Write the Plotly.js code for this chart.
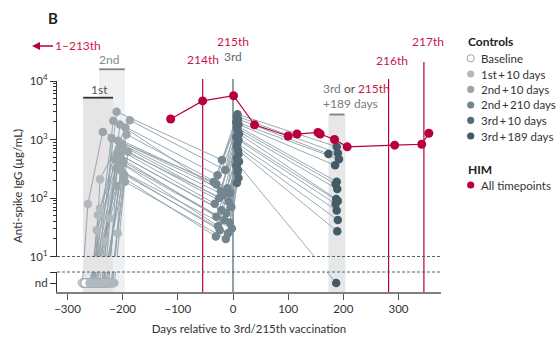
<!DOCTYPE html>
<html><head><meta charset="utf-8">
<script src="https://cdn.plot.ly/plotly-3.0.1.min.js"></script>
<style>html,body{margin:0;padding:0;background:#fff}</style>
</head><body><div id="chart" style="width:559px;height:340px"></div>
<script>
// ---------- DATA ----------
const ND = 'nd';
// Controls: one entry per participant (null = no sample)
const baselineDays = [-258,-251,-262,-245,-273,-240,-233,-251,-266,-257,-235,-255,-219,-248,-260,-242,-270,-243,-228,-256,-264,-231,-246,-225,-268,-238];
const baselineIgG  = [ND,ND,ND,ND,ND,ND,ND,ND,ND,ND,ND,ND,ND,ND,ND,ND,ND,ND,ND,ND,ND,ND,ND,ND,ND,ND];
const first10Days  = [-248,-241,-252,-235,-263,-230,-223,-241,-256,-247,-225,-245,-209,-238,-250,-232,-260,-233,-218,-246,-254,-221,-236,-215,-258,-228];
const first10IgG   = [ND,210,ND,ND,79,ND,45,67,ND,28,ND,51,25,ND,ND,18,ND,ND,ND,ND,ND,ND,ND,ND,ND,ND];
const second10Days = [-211,-187,-217,-220,-236,-193,-205,-208,-203,-200,-207,-205,-190,-210,-204,-206,-214,-199,-200,-212,-201,-197,-198,-196,-211,-195];
const second10IgG  = [2985,2140,2100,1050,1350,1220,1800,950,850,780,700,660,620,580,540,500,460,420,380,320,280,250,220,190,160,1600];
const second210Days= [-20,-14,-28,-35,-30,-10,-22,-5,-18,-25,-8,-33,-3,-21,-12,-30,-16,-6,-27,-2,-24,-9,-31,-13,null,null];
const second210IgG = [447,300,245,187,171,147,130,120,113,100,87,80,70,62,55,48,42,38,33,30,28,25,22,20,null,null];
const third10Days  = [8,7,9,6,10,8,7,9,11,6,10,8,7,9,8,10,7,11,6,9,8,10,7,null,null,null];
const third10IgG   = [2700,2500,2240,2000,1820,1700,1580,1400,1250,1100,980,850,760,660,390,560,480,420,363,300,275,220,180,null,null,null];
const third189Days = [188,190,173,192,185,188,186,189,187,190,186,188,190,189,187,null,null,null,null,null,null,null,null,null,null,null];
const third189IgG  = [753,581,565,459,362,190,173,142,96,89,79,61,42,27,ND,null,null,null,null,null,null,null,null,null,null,null];
// HIM (hyperimmunised man)
const himDays = [-113,-55,1,39,100,116,154,158,184,207,293,342,355];
const himIgG  = [2240,4570,5600,1780,1150,1240,1320,1240,1000,750,800,830,1280];
// Vaccination markers
const doseDays   = [-55,0,282,346];
const doseLabels = ['214th','3rd','216th','217th'];
// Axes
const xTicks = [-300,-200,-100,0,100,200,300];
const yTicks = [10,100,1000,10000];
const yTickText = ['10<sup>1</sup>','10<sup>2</sup>','10<sup>3</sup>','10<sup>4</sup>'];
// Legend
const controlLabels = ['Baseline','1st\u2009+\u200910 days','2nd\u2009+\u200910 days','2nd\u2009+\u2009210 days','3rd\u2009+\u200910 days','3rd\u2009+\u2009189 days'];
const controlColors = ['#ffffff','#b0b9be','#9aa6ac','#73858f','#566d78','#435b66'];
const RED = '#b8003f', RED_TXT = '#c8174a', SLATE = '#4a6470', LINE = '#8fa0a9';

// ---------- GEOMETRY ----------
const PL = 57, PR = 441, PT = 81, PB = 292, PH = PB - PT, PW = PR - PL;
const py = p => (PB - p) / PH;          // pixel y -> paper y
const pxp = p => (p - PL) / PW;         // pixel x -> paper x
const DEC = 58.5, Y10 = 256.5;          // px per decade, pixel of 10^1
const logAt = p => 1 + (Y10 - p) / DEC;
const NDV = Math.pow(10, logAt(283));
const FONT = 'Lato, "Open Sans", sans-serif';

const val = v => v === ND ? NDV : v;

// ---------- TRACES ----------
const series = [
  [baselineDays, baselineIgG],[first10Days, first10IgG],[second10Days, second10IgG],
  [second210Days, second210IgG],[third10Days, third10IgG],[third189Days, third189IgG]
];
const lx = [], ly = [];
for (let i = 0; i < baselineDays.length; i++) {
  series.forEach(([d, v]) => { if (d[i] !== null && v[i] !== null) { lx.push(d[i]); ly.push(val(v[i])); } });
  lx.push(null); ly.push(null);
}
const traces = [];
['y','y2'].forEach(ya => {
  traces.push({x: lx, y: ly, yaxis: ya, mode: 'lines', line: {color: LINE, width: 0.9}, hoverinfo: 'skip', showlegend: false});
  series.forEach(([d, v], k) => {
    const xs = [], ys = [];
    d.forEach((dd, i) => { if (dd !== null && v[i] !== null) { xs.push(dd); ys.push(val(v[i])); } });
    traces.push({x: xs, y: ys, yaxis: ya, mode: 'markers', showlegend: false,
      marker: {size: 8.5, color: controlColors[k], line: {color: k === 0 ? '#97a3aa' : controlColors[k], width: k === 0 ? 1 : 0}}});
  });
  traces.push({x: himDays, y: himIgG, yaxis: ya, mode: 'lines+markers', showlegend: false,
    line: {color: RED, width: 1.2}, marker: {size: 9, color: RED}});
});
// dose triangles (above plot)
traces.push({x: doseDays, y: [74, 74, 74, 57].map(p => Math.pow(10, logAt(p))), yaxis: 'y', mode: 'markers',
  cliponaxis: false, hoverinfo: 'skip', showlegend: false,
  marker: {symbol: 'triangle-down', size: 10, color: [RED, SLATE, RED, RED], line: {width: 0}}});

// ---------- SHAPES ----------
const shapes = [
  {type:'rect', xref:'x', yref:'paper', x0:-242.6, x1:-196, y0:0, y1:py(69.3), fillcolor:'#eff0f2', line:{width:0}, layer:'below'},
  {type:'rect', xref:'x', yref:'paper', x0:-271.6, x1:-217.4, y0:0, y1:py(97.7), fillcolor:'#e6e4e4', line:{width:0}, layer:'below'},
  {type:'rect', xref:'x', yref:'paper', x0:173, x1:203.6, y0:0, y1:py(114), fillcolor:'#e6e7e9', line:{width:0}, layer:'below'},
  {type:'line', xref:'x', yref:'paper', x0:-271.6, x1:-217.4, y0:py(97.7), y1:py(97.7), line:{color:'#333', width:1.8}},
  {type:'line', xref:'x', yref:'paper', x0:-242.6, x1:-196, y0:py(69.3), y1:py(69.3), line:{color:'#808080', width:1.8}},
  {type:'line', xref:'x', yref:'paper', x0:175, x1:202, y0:py(114.5), y1:py(114.5), line:{color:'#808080', width:1.8}},
  {type:'line', xref:'paper', yref:'paper', x0:0, x1:1, y0:py(Y10), y1:py(Y10), line:{color:SLATE, width:1, dash:'3px,2px'}},
  {type:'line', xref:'paper', yref:'paper', x0:0, x1:1, y0:py(272), y1:py(272), line:{color:SLATE, width:1, dash:'3px,2px'}}
];
[[79, RED],[79, SLATE],[79, RED],[62, RED]].forEach(([top, c], i) => {
  shapes.push({type:'line', xref:'x', yref:'paper', x0:doseDays[i], x1:doseDays[i], y0:0, y1:py(top), line:{color:c, width:1.2}, layer:'below'});
});
// legend markers
const legRows = [58.3, 74, 89.3, 105, 120.3, 136];
legRows.forEach((r, k) => shapes.push({type:'circle', xref:'paper', yref:'paper', xsizemode:'pixel', ysizemode:'pixel',
  xanchor:pxp(470.7), yanchor:py(r), x0:-3.6, x1:3.6, y0:-3.6, y1:3.6,
  fillcolor: controlColors[k], line:{color: k === 0 ? '#97a3aa' : controlColors[k], width: k === 0 ? 1 : 0}}));
shapes.push({type:'circle', xref:'paper', yref:'paper', xsizemode:'pixel', ysizemode:'pixel',
  xanchor:pxp(470.7), yanchor:py(185), x0:-3.6, x1:3.6, y0:-3.6, y1:3.6, fillcolor: RED, line:{width:0}});

// ---------- ANNOTATIONS ----------
const ann = [];
const A = o => ann.push(Object.assign({showarrow:false, xanchor:'center', yanchor:'middle', font:{family:FONT, size:12, color:'#333'}}, o));
A({xref:'paper', yref:'paper', x:pxp(53), y:py(18), text:'<b>B</b>', font:{family:FONT, size:15, color:'#222'}});
ann.push({xref:'paper', yref:'paper', x:pxp(32), y:py(46), ax:45.5, ay:0, xanchor:'center', yanchor:'middle', text:'1–213th', showarrow:true,
  arrowhead:2, arrowsize:1, arrowwidth:1.6, arrowcolor:RED, font:{family:FONT, size:12, color:RED_TXT}});
A({xref:'x', yref:'paper', x:doseDays[0], y:py(59), text:doseLabels[0], font:{family:FONT, size:12, color:RED_TXT}});
A({xref:'x', yref:'paper', x:doseDays[1], y:py(42), text:'215th', font:{family:FONT, size:12, color:RED_TXT}});
A({xref:'x', yref:'paper', x:doseDays[1], y:py(57), text:doseLabels[1], font:{family:FONT, size:12, color:'#5a6e78'}});
A({xref:'x', yref:'paper', x:doseDays[2], xshift:3, y:py(61), text:doseLabels[2], font:{family:FONT, size:12, color:RED_TXT}});
A({xref:'x', yref:'paper', x:doseDays[3], xshift:4, y:py(42), text:doseLabels[3], font:{family:FONT, size:12, color:RED_TXT}});
A({xref:'x', yref:'paper', x:-241.5, y:py(89.3), text:'1st', font:{family:FONT, size:12, color:'#555'}});
A({xref:'x', yref:'paper', x:-225, y:py(60), text:'2nd', font:{family:FONT, size:12, color:'#7d8c95'}});
A({xref:'paper', yref:'paper', x:pxp(320.5), xanchor:'left', y:py(88), text:'<span style="color:#6f808a">3rd</span> <span style="color:#555">or</span> <span style="color:#c8174a">215th</span>'});
A({xref:'paper', yref:'paper', x:pxp(320.5), xanchor:'left', y:py(103.3), text:'+189 days', font:{family:FONT, size:12, color:'#7a7a7a'}});
A({xref:'paper', yref:'paper', x:pxp(17), y:py(186), textangle:-90, text:'Anti-spike IgG (µg/mL)', font:{family:FONT, size:11.5, color:'#333'}});
A({xref:'paper', yref:'paper', x:pxp(466), xanchor:'left', y:py(41.7), text:'<b>Controls</b>', font:{family:FONT, size:12, color:'#222'}});
A({xref:'paper', yref:'paper', x:pxp(466), xanchor:'left', y:py(169), text:'<b>HIM</b>', font:{family:FONT, size:12, color:'#222'}});
controlLabels.forEach((t, k) => A({xref:'paper', yref:'paper', x:pxp(478.5), xanchor:'left', y:py(legRows[k]), text:t, font:{family:FONT, size:11.5, color:'#333'}}));
A({xref:'paper', yref:'paper', x:pxp(478.5), xanchor:'left', y:py(185), text:'All timepoints', font:{family:FONT, size:11.5, color:'#333'}});

// ---------- LAYOUT ----------
const minorVals = [];
[10,100,1000].forEach(b => { for (let m = 2; m <= 9; m++) minorVals.push(b*m); });
const layout = {
  width:559, height:340, margin:{l:PL, r:559-PR, t:PT, b:340-PB},
  paper_bgcolor:'#fff', plot_bgcolor:'rgba(0,0,0,0)', showlegend:false,
  font:{family:FONT, size:11, color:'#333'},
  xaxis:{range:[-319,377], anchor:'y2', showgrid:false, zeroline:false, showline:true, linecolor:'#808080', linewidth:1.5,
    ticks:'outside', ticklen:6, tickcolor:'#555', tickvals:xTicks, tickfont:{size:11.5, color:'#333'},
    title:{text:'Days relative to 3rd/215th vaccination', font:{size:11.5, color:'#333'}, standoff:10}},
  yaxis:{type:'log', range:[1,4], domain:[py(Y10),1], anchor:'x', showgrid:false, zeroline:false, showline:true, linecolor:'#333', linewidth:1,
    ticks:'outside', ticklen:6, tickcolor:'#333', tickvals:yTicks, ticktext:yTickText, tickfont:{size:11.5, color:'#333'},
    minor:{tickmode:'array', tickvals:minorVals, ticks:'outside', ticklen:3.5, tickcolor:'#333', showgrid:false}},
  yaxis2:{type:'log', range:[logAt(PB), logAt(272)], domain:[0, py(272)], anchor:'x', showgrid:false, zeroline:false, showline:true,
    linecolor:'#333', linewidth:1, ticks:'outside', ticklen:6, tickcolor:'#333',
    tickvals:[NDV, Math.pow(10, logAt(272))], ticktext:['nd',''], tickfont:{size:11.5, color:'#333'}},
  shapes: shapes, annotations: ann
};
Plotly.newPlot('chart', traces, layout, {staticPlot:true, displayModeBar:false});
</script></body></html>
